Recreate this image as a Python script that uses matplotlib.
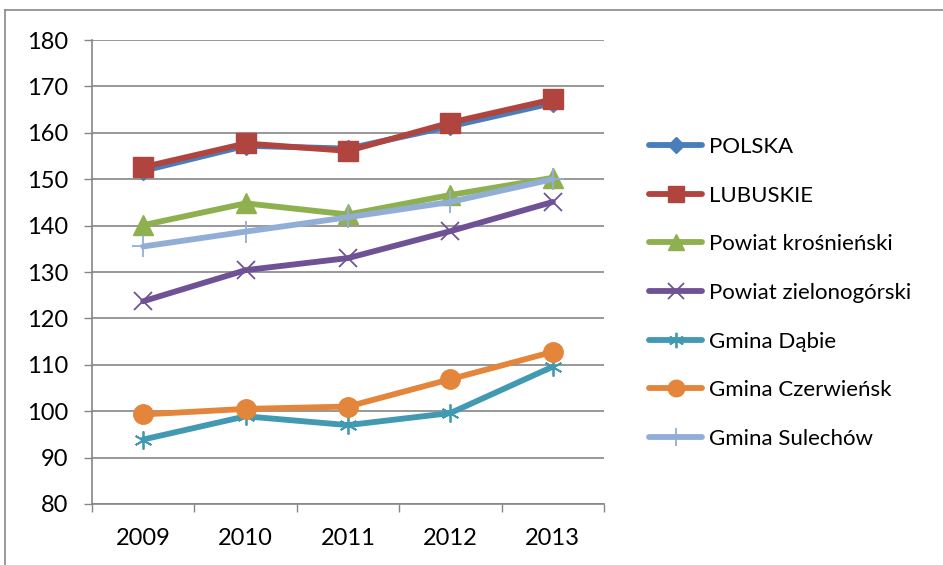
import matplotlib
matplotlib.use("Agg")
import matplotlib.pyplot as plt
from matplotlib.lines import Line2D

years = ["2009", "2010", "2011", "2012", "2013"]
series_names = ["POLSKA", "LUBUSKIE", "Powiat krośnieński", "Powiat zielonogórski",
                "Gmina Dąbie", "Gmina Czerwieńsk", "Gmina Sulechów"]
polska = [151.8, 157.2, 156.6, 161.4, 166.4]
lubuskie = [152.6, 157.7, 156.1, 162.2, 167.2]
krosnienski = [140.1, 144.8, 142.4, 146.6, 150.3]
zielonogorski = [123.7, 130.4, 133.0, 138.8, 145.1]
dabie = [93.9, 98.9, 97.0, 99.6, 109.6]
czerwiensk = [99.3, 100.5, 101.0, 106.9, 112.8]
sulechow = [135.5, 138.7, 141.8, 145.1, 150.0]
y_ticks = [80, 90, 100, 110, 120, 130, 140, 150, 160, 170, 180]

values = [polska, lubuskie, krosnienski, zielonogorski, dabie, czerwiensk, sulechow]
colors = ["#4A7EBB", "#B0443F", "#8FB04F", "#6F5295", "#4299B2", "#E3853A", "#93AED6"]
markers = ["D", "s", "^", "x", (6, 2, 0), "o", "+"]
msizes = [9, 14, 14, 13, 13, 14, 16]
mews = [1, 1, 1, 1.3, 1.3, 1, 1.3]

plt.rcParams["font.family"] = ["Lato", "DejaVu Sans"]

fig = plt.figure(figsize=(9.43, 5.65), dpi=100)
ax = fig.add_axes([92 / 943, 61 / 565, 512 / 943, 464 / 565])

x = list(range(len(years)))
handles = []
for name, vals, c, m, ms, mew in zip(series_names, values, colors, markers, msizes, mews):
    (h,) = ax.plot(x, vals, color=c, lw=4.2, marker=m, markersize=ms,
                   markerfacecolor=c, markeredgecolor=c, markeredgewidth=mew,
                   solid_capstyle="round", label=name)
    handles.append(h)

ax.set_xlim(-0.5, len(years) - 0.5)
ax.set_ylim(80, 180)
ax.set_yticks(y_ticks)
ax.set_yticklabels([str(t) for t in y_ticks], fontsize=17)
ax.set_xticks(x)
ax.set_xticklabels(years, fontsize=17)
ax.set_xticks([i - 0.5 for i in range(len(years) + 1)], minor=True)
ax.tick_params(axis="x", which="major", length=0, pad=17)
ax.tick_params(axis="x", which="minor", length=6, color="#868686", width=1)
ax.tick_params(axis="y", length=6, color="#868686", width=1, pad=11)

ax.grid(axis="y", color="#868686", lw=1.2)
ax.set_axisbelow(True)
for s in ["top", "right"]:
    ax.spines[s].set_visible(False)
for s in ["left", "bottom"]:
    ax.spines[s].set_color("#868686")
    ax.spines[s].set_linewidth(1.2)

leg = fig.legend(handles=handles, loc="upper left", bbox_to_anchor=(640 / 943, 1 - 128 / 565),
                 frameon=False, fontsize=16, handlelength=2.4, handletextpad=0.3,
                 labelspacing=1.29, borderaxespad=0)
for lh in leg.legend_handles:
    lh.set_markersize(lh.get_markersize() * 0.85)

# outer chart frame
fig.add_artist(Line2D([5 / 943, 1], [1 - 10 / 565, 1 - 10 / 565], color="#878787", lw=1.2))
fig.add_artist(Line2D([5 / 943, 5 / 943], [0, 1 - 10 / 565], color="#878787", lw=1.2))

fig.savefig("out.png", dpi=100)
